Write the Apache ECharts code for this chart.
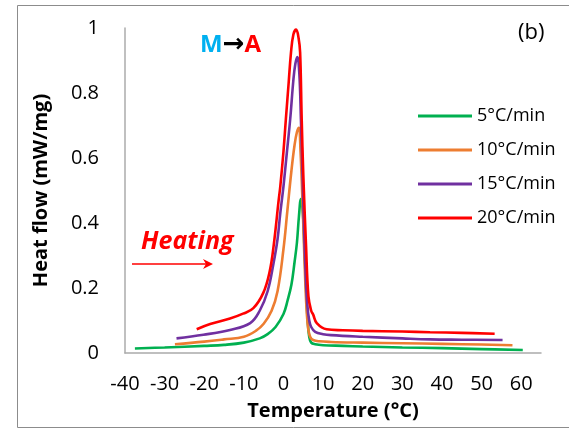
<!DOCTYPE html>
<html>
<head>
<meta charset="utf-8">
<script src="https://cdn.jsdelivr.net/npm/echarts@6/dist/echarts.min.js"></script>
<style>
  html, body { margin: 0; padding: 0; background: #fff; }
  #box { width: 569px; height: 431px; }
</style>
</head>
<body>
<div id="box"></div>
<script>
// heating rate labels
var rates = ['5°C/min', '10°C/min', '15°C/min', '20°C/min'];
var colors = ['#00b050', '#ed7d31', '#7030a0', '#ff0000'];

// 5 C/min
var t5 = [-37.5, -30, -20, -15, -10, -6, -4, -2, 0, 1, 2, 2.8, 3.4, 3.9, 4.4, 4.9, 5.3, 5.7, 6.1, 6.5, 7, 8, 10, 15, 20, 30, 40, 50, 60.4];
var hf5 = [0.014, 0.017, 0.022, 0.025, 0.032, 0.045, 0.058, 0.08, 0.12, 0.16, 0.21, 0.28, 0.34, 0.42, 0.474, 0.43, 0.32, 0.2, 0.1, 0.05, 0.032, 0.027, 0.024, 0.022, 0.02, 0.017, 0.015, 0.012, 0.009];
// 10 C/min
var t10 = [-27.4, -20, -15, -10, -7, -5, -3, -1.5, 0, 1, 2, 2.8, 3.4, 3.9, 4.3, 4.7, 5.1, 5.5, 5.9, 6.3, 6.8, 7.5, 9, 12, 20, 30, 40, 50, 57.8];
var hf10 = [0.027, 0.035, 0.042, 0.05, 0.068, 0.09, 0.13, 0.19, 0.32, 0.44, 0.56, 0.64, 0.68, 0.693, 0.62, 0.5, 0.36, 0.22, 0.12, 0.07, 0.048, 0.04, 0.036, 0.034, 0.032, 0.03, 0.028, 0.026, 0.024];
// 15 C/min
var t15 = [-27, -20.2, -13.5, -8.4, -6, -4, -2.5, -1.5, -0.8, 0, 0.8, 1.7, 2.5, 3, 3.5, 4, 4.4, 4.8, 5.2, 5.6, 6.0, 6.5, 7, 8, 10, 12, 20, 30, 37, 45, 55.3];
var hf15 = [0.045, 0.056, 0.071, 0.092, 0.13, 0.19, 0.277, 0.35, 0.431, 0.513, 0.61, 0.72, 0.84, 0.89, 0.911, 0.86, 0.72, 0.55, 0.38, 0.24, 0.15, 0.1, 0.08, 0.065, 0.058, 0.055, 0.05, 0.045, 0.042, 0.041, 0.04];
// 20 C/min
var t20 = [-21.9, -18.5, -13.5, -10.2, -7.6, -5.1, -3.5, -2.5, -1.2, -0.8, 0, 0.6, 1.3, 1.9, 2.5, 3.2, 3.8, 4.2, 4.6, 5.0, 5.7, 6.3, 7, 7.5, 8.4, 10.9, 15, 20, 30, 37, 45, 53.3];
var hf20 = [0.073, 0.089, 0.106, 0.121, 0.138, 0.185, 0.25, 0.328, 0.472, 0.513, 0.62, 0.719, 0.83, 0.925, 0.98, 0.995, 0.97, 0.925, 0.719, 0.55, 0.328, 0.174, 0.13, 0.118, 0.092, 0.073, 0.07, 0.068, 0.066, 0.064, 0.062, 0.059];

var temps = [t5, t10, t15, t20];
var flows = [hf5, hf10, hf15, hf20];

function pairs(xs, ys) {
    var list = [];
    for (let i = 0; i < xs.length; i++) {
        list.push([xs[i], ys[i]]);
    }
    return list;
}

var font = '"Open Sans", "Noto Sans", sans-serif';
var myChart = echarts.init(document.getElementById('box'));

var series = [];
for (let i = 0; i < rates.length; i++) {
    series.push({
        name: rates[i],
        type: 'line',
        data: pairs(temps[i], flows[i]),
        showSymbol: false,
        smooth: 0.4,
        color: colors[i],
        lineStyle: { width: 2.6, color: colors[i] }
    });
}

var option = {
    backgroundColor: '#fff',
    animation: false,
    grid: { left: 125, right: 28, top: 28, bottom: 78 },
    legend: {
        orient: 'vertical',
        left: 418,
        top: 106,
        padding: 0,
        icon: 'rect',
        itemWidth: 54,
        itemHeight: 3,
        itemGap: 14,
        textStyle: { fontFamily: font, fontSize: 18, color: '#000', lineHeight: 20 },
        data: rates
    },
    xAxis: {
        type: 'value',
        min: -40,
        max: 65,
        interval: 10,
        name: 'Temperature (°C)',
        nameLocation: 'middle',
        nameGap: 48,
        nameTextStyle: { fontFamily: font, fontSize: 20, fontWeight: 'bold', color: '#000' },
        axisLine: { show: true, onZero: false, lineStyle: { color: '#ababab', width: 1.5 } },
        axisTick: { show: false },
        splitLine: { show: false },
        axisLabel: {
            fontFamily: font, fontSize: 20, color: '#000', margin: 21,
            formatter: function (v) { return v > 60 ? '' : v; }
        }
    },
    yAxis: {
        type: 'value',
        min: 0,
        max: 1,
        interval: 0.2,
        name: 'Heat flow (mW/mg)',
        nameLocation: 'middle',
        nameGap: 74,
        nameTextStyle: { fontFamily: font, fontSize: 20, fontWeight: 'bold', color: '#000' },
        axisLine: { show: true, onZero: false, lineStyle: { color: '#ababab', width: 1.5 } },
        axisTick: { show: false },
        splitLine: { show: false },
        axisLabel: {
            fontFamily: font, fontSize: 20, color: '#000', margin: 26,
            formatter: function (v) { return String(Math.round(v * 10) / 10); }
        }
    },
    graphic: [
        {
            type: 'rect',
            shape: { x: 17.5, y: 5.5, width: 560, height: 422 },
            style: { fill: null, stroke: '#8c8c8c', lineWidth: 1 },
            silent: true
        },
        {
            type: 'text',
            left: 518, top: 22,
            style: { text: '(b)', fontFamily: font, fontSize: 22, fill: '#000' }
        },
        {
            type: 'text',
            left: 200, top: 32,
            style: {
                text: '{m|M}{a|→}{r|A}',
                rich: {
                    m: { fontFamily: font, fontSize: 24, fontWeight: 'bold', fill: '#00b0f0' },
                    a: { fontFamily: 'DejaVu Sans', fontSize: 26, fontWeight: 'bold', fill: '#000' },
                    r: { fontFamily: font, fontSize: 24, fontWeight: 'bold', fill: '#ff0000' }
                }
            }
        },
        {
            type: 'text',
            left: 141, top: 229,
            style: { text: 'Heating', fontFamily: font, fontSize: 25, fontWeight: 'bold', fontStyle: 'italic', fill: '#ff0000' }
        },
        {
            type: 'line',
            shape: { x1: 132, y1: 264, x2: 208, y2: 264 },
            style: { stroke: '#ff0000', lineWidth: 1.3 }
        },
        {
            type: 'polygon',
            shape: { points: [[213, 264], [203, 259], [206, 264], [203, 269]] },
            style: { fill: '#ff0000' }
        }
    ],
    series: series
};
myChart.setOption(option);
</script>
</body>
</html>
